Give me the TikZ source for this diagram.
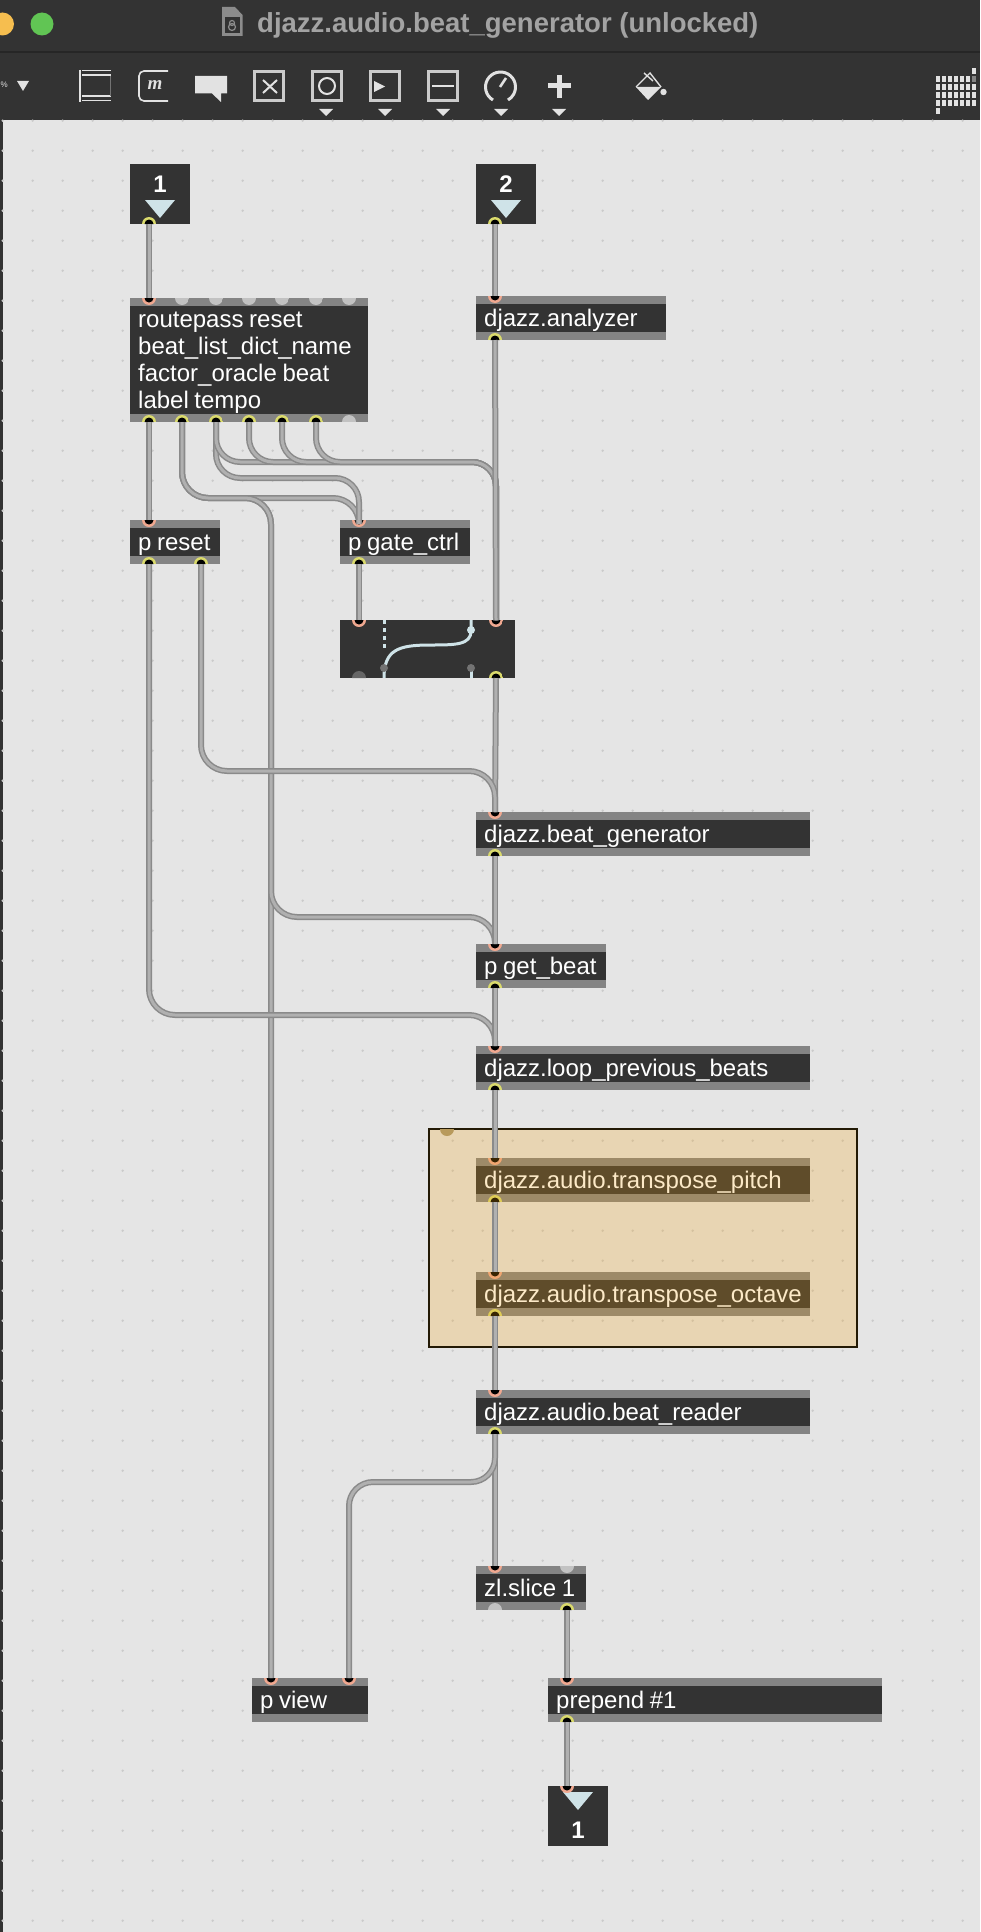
\documentclass[tikz,border=0pt]{standalone}
\usepackage{amsmath}
\usepackage{fontspec}
\setmainfont{Liberation Sans}
\newfontfamily\serifm{Liberation Serif}
\usepackage{tikz}

\definecolor{objdark}{HTML}{333333}
\definecolor{objstrip}{HTML}{848484}
\definecolor{canvasgray}{HTML}{E5E5E5}
\definecolor{griddot}{HTML}{CBCBCB}
\definecolor{iconlight}{HTML}{E2E2E2}
\definecolor{titlegray}{HTML}{A3A3A3}
\definecolor{arrowblue}{HTML}{CFE3E8}
\definecolor{inpink}{HTML}{F0A890}
\definecolor{outyellow}{HTML}{DADA6C}
\definecolor{freegray}{HTML}{C2C2C2}
\definecolor{cordedge}{HTML}{8A8A8A}
\definecolor{cordmid}{HTML}{B0B0B0}
\definecolor{panelorange}{RGB}{243,161,13}
\definecolor{panelline}{HTML}{231A05}
\definecolor{lightyellow}{HTML}{F6BE4F}
\definecolor{lightgreen}{HTML}{61C554}
\definecolor{panelknob}{HTML}{B89A5C}

\tikzset{
  maxobj/.style={rectangle, fill=objdark, anchor=north west, inner xsep=8pt, inner ysep=0pt,
    minimum width=#1pt, text width=#1pt-16pt, minimum height=44pt, text=white, align=left,
    font=\fontsize{24}{27}\selectfont, text height=20pt, text depth=2.6pt,
    execute at begin node={\spaceskip=5.6pt\relax},
    path picture={
      \fill[objstrip] (path picture bounding box.north west) rectangle ([yshift=-8pt]path picture bounding box.north east);
      \fill[objstrip] (path picture bounding box.south west) rectangle ([yshift=8pt]path picture bounding box.south east);
    }},
  ioobj/.style={rectangle, fill=objdark, anchor=north west, inner sep=0pt, minimum size=60pt},
  ionum/.style={text=white, anchor=base, font=\fontsize{24}{24}\selectfont\bfseries},
  lowhalf/.style={circle, inner sep=0pt, minimum size=14pt, path picture={
      \fill[#1] (path picture bounding box.south west) rectangle (path picture bounding box.east);
      \fill[black] (path picture bounding box.center) ++(-4.5pt,0pt) arc[start angle=180, end angle=360, radius=4.5pt] -- cycle;
    }},
  uphalf/.style={circle, inner sep=0pt, minimum size=14pt, path picture={
      \fill[#1] (path picture bounding box.north west) rectangle (path picture bounding box.east);
      \fill[black] (path picture bounding box.center) ++(-4.5pt,0pt) arc[start angle=180, end angle=0, radius=4.5pt] -- cycle;
    }},
  inport/.style={lowhalf=inpink},
  outport/.style={uphalf=outyellow},
  freein/.style={circle, inner sep=0pt, minimum size=14pt, path picture={
      \fill[freegray] (path picture bounding box.south west) rectangle (path picture bounding box.east);}},
  freeout/.style={circle, inner sep=0pt, minimum size=14pt, path picture={
      \fill[freegray] (path picture bounding box.north west) rectangle (path picture bounding box.east);}},
  cord/.style={draw=cordedge, double=cordmid, line width=1.5pt, double distance=3pt},
  bend/.style={cord, rounded corners=#1pt},
  toolbox/.style={draw=iconlight!90!black, line width=2.6pt},
  toolline/.style={draw=iconlight, line width=2pt},
  menutip/.style={fill=iconlight}
}

\begin{document}
\begin{tikzpicture}[x=1pt, y=-1pt]
  \useasboundingbox (0,0) rectangle (980,1932);
  \clip (0,0) rectangle (980,1932);

  % Window and canvas
  \fill[canvasgray] (0,120) rectangle (980,1932);
  \fill[objdark] (0,0) rectangle (980,120);
  \fill[objdark] (0,120) rectangle (2.5,1932);
  \fill[black!85] (0,51.5) rectangle (980,53);
  \foreach \gx in {2.7,32.7,...,980} {
    \foreach \gy in {120.7,150.7,...,1932} {
      \fill[griddot] (\gx,\gy) circle (1.3pt);
    }
  }

  % Title bar
  \fill[lightyellow] (2.5,24) circle (11.5pt);
  \fill[lightgreen] (42,24) circle (11.5pt);
  \fill[black!45] (222,7) -- (235,7) -- (242.5,15) -- (242.5,36) -- (222,36) -- cycle;
  \fill[objdark] (225,17) rectangle (239.5,33);
  \draw[black!45, line width=1.2pt] (232,27) circle (3.5pt);
  \draw[black!45, line width=1.2pt] (232,23) circle (2.5pt);
  \node[anchor=base west, inner sep=0pt, text=titlegray, font=\fontsize{27.5}{27.5}\selectfont\bfseries] (title) at (257,32.5) {djazz.audio.beat\_generator (unlocked)};

  % Toolbar icons
  \node[anchor=west, inner sep=0pt, text=iconlight, font=\fontsize{8}{8}\selectfont] (zoomval) at (0.5,85) {\%};
  \fill[menutip] (17,81) -- (29,81) -- (23,91) -- cycle;
  \draw[toolline] (80,70) -- (80,102);
  \draw[toolline, line width=1pt] (82,71) -- (111,71);
  \draw[toolline] (82,75.5) -- (111,75.5);
  \draw[toolline] (82,96) -- (111,96);
  \draw[toolline, line width=1pt] (82,101) -- (111,101);
  \draw[black!55, line width=1pt] (110,76) -- (110,96);
  \draw[toolline, line width=1.6pt, rounded corners=5pt] (168,71) -- (139,71) -- (139,101) -- (168,101);
  \node[text=iconlight, inner sep=0pt, font=\fontsize{19}{19}\selectfont\serifm\bfseries\itshape] (msgm) at (155,85) {m};
  \fill[iconlight] (195,76) -- (227,76) -- (227,93.5) -- (221,93.5) -- (221,102) -- (212,93.5) -- (195,93.5) -- cycle;
  \draw[toolbox] (254.5,71.5) rectangle (283.5,100.5);
  \draw[toolline] (263,80) -- (277,93);
  \draw[toolline] (277,80) -- (263,93);
  \draw[toolbox] (312.5,71.5) rectangle (341.5,100.5);
  \draw[toolline] (327,86) circle (8pt);
  \draw[toolbox] (370.5,71.5) rectangle (399.5,100.5);
  \fill[iconlight] (374,81) -- (385,86.5) -- (374,92) -- cycle;
  \draw[toolbox] (428.5,71.5) rectangle (457.5,100.5);
  \draw[toolline] (432,86) -- (454,86);
  \draw[iconlight, line width=3pt] (493,100) arc[start angle=-120, end angle=-420, radius=15pt];
  \draw[toolline, line width=2.6pt] (500,87) -- (506,78);
  \draw[iconlight, line width=5pt] (548,86) -- (571,86);
  \draw[iconlight, line width=5pt] (559,75) -- (559,98);
  \fill[iconlight] (636,87) -- (661,87) -- (648,100) -- cycle;
  \draw[iconlight, line width=1.4pt] (636,87) -- (650,73) -- (661,87);
  \draw[iconlight, line width=1.4pt] (644,73) -- (653,81);
  \fill[iconlight] (663.5,92) circle (3.2pt);
  \foreach \tx in {326,385,443,501,559} {
    \fill[menutip] ([xshift=-7pt]\tx,109) -- ([xshift=7pt]\tx,109) -- (\tx,116) -- cycle;
  }
  \foreach \sx in {938,944,950,956,962,968,974} {
    \foreach \sy in {79,87,95,103} {
      \fill[iconlight] (\sx-2,\sy-3) rectangle (\sx+2,\sy+3);
    }
  }
  \fill[objstrip] (972,76) rectangle (976,82);
  \fill[iconlight] (972,68) rectangle (976,74);
  \fill[iconlight] (936,108) rectangle (940,114);

  % Define objects
  \node[ioobj] (inA) at (130,164) {};
  \node[ioobj] (inB) at (476,164) {};
  \node[maxobj=238, minimum height=124pt, text depth=85pt] (route) at (130,298) {routepass reset\\beat\_list\_dict\_name\\factor\_oracle beat\\label tempo};
  \node[maxobj=190] (analyzer) at (476,296) {djazz.analyzer};
  \node[maxobj=90] (reset) at (130,520) {p~reset};
  \node[maxobj=130] (gatectrl) at (340,520) {p~gate\_ctrl};
  \node[rectangle, fill=objdark, anchor=north west, inner sep=0pt, minimum width=175pt, minimum height=58pt] (gate) at (340,620) {};
  \node[maxobj=334] (generator) at (476,812) {djazz.beat\_generator};
  \node[maxobj=130] (getbeat) at (476,944) {p~get\_beat};
  \node[maxobj=334] (loopbeats) at (476,1046) {djazz.loop\_previous\_beats};
  \node[maxobj=334] (pitch) at (476,1158) {djazz.audio.transpose\_pitch};
  \node[maxobj=334] (octave) at (476,1272) {djazz.audio.transpose\_octave};
  \node[maxobj=334] (reader) at (476,1390) {djazz.audio.beat\_reader};
  \node[maxobj=110] (slice) at (476,1566) {zl.slice 1};
  \node[maxobj=116] (view) at (252,1678) {p~view};
  \node[maxobj=334] (prepend) at (548,1678) {prepend \#1};
  \node[ioobj] (outA) at (548,1786) {};

  % Inlet and outlet boxes
  \fill[arrowblue] (145,200) -- (175,200) -- (160,218) -- cycle;
  \fill[arrowblue] (491,200) -- (521,200) -- (506,218) -- cycle;
  \fill[arrowblue] (563,1792) -- (593,1792) -- (578,1810) -- cycle;
  \node[ionum] (numA) at (160,192) {1};
  \node[ionum] (numB) at (506,192) {2};
  \node[ionum] (numC) at (578,1838) {1};

  % Gate inside
  \draw[arrowblue, line width=3pt, dash pattern=on 4pt off 4pt] (384,620) -- (384,648);
  \draw[arrowblue, line width=3pt] (471,620) -- (471,631) .. controls (471,645) and (455,645) .. (430,645) .. controls (398,645) and (384,650) .. (384,678);
  \draw[arrowblue, line width=3pt] (471,668) -- (471,678);
  \fill[arrowblue] (471,630) circle (4pt);
  \fill[black!55] (384,668) circle (4pt);
  \fill[black!55] (471,668) circle (4pt);
  \fill[black!60] (352,678) arc[start angle=180, end angle=0, radius=7pt] -- cycle;

  % Define ports
  \node[outport] (inAo) at (149,224) {};
  \node[outport] (inBo) at (495,224) {};
  \node[inport] (routei) at (149,298) {};
  \node[freein] (routeiB) at (182,298) {};
  \node[freein] (routeiC) at (216,298) {};
  \node[freein] (routeiD) at (249,298) {};
  \node[freein] (routeiE) at (282,298) {};
  \node[freein] (routeiF) at (316,298) {};
  \node[freein] (routeiG) at (349,298) {};
  \node[outport] (routeA) at (149,422) {};
  \node[outport] (routeB) at (182,422) {};
  \node[outport] (routeC) at (216,422) {};
  \node[outport] (routeD) at (249,422) {};
  \node[outport] (routeE) at (282,422) {};
  \node[outport] (routeF) at (316,422) {};
  \node[freeout] (routeG) at (349,422) {};
  \node[inport] (analyzeri) at (495,296) {};
  \node[outport] (analyzero) at (495,340) {};
  \node[inport] (reseti) at (149,520) {};
  \node[outport] (resetA) at (149,564) {};
  \node[outport] (resetB) at (201,564) {};
  \node[inport] (ctrli) at (359,520) {};
  \node[outport] (ctrlo) at (359,564) {};
  \node[inport] (gateA) at (359,620) {};
  \node[inport] (gateB) at (496,620) {};
  \node[outport] (gateo) at (496,678) {};
  \node[inport] (geni) at (495,812) {};
  \node[outport] (geno) at (495,856) {};
  \node[inport] (beati) at (495,944) {};
  \node[outport] (beato) at (495,988) {};
  \node[inport] (loopi) at (495,1046) {};
  \node[outport] (loopo) at (495,1090) {};
  \node[inport] (pitchi) at (495,1158) {};
  \node[outport] (pitcho) at (495,1202) {};
  \node[inport] (octavei) at (495,1272) {};
  \node[outport] (octaveo) at (495,1316) {};
  \node[inport] (readeri) at (495,1390) {};
  \node[outport] (readero) at (495,1434) {};
  \node[inport] (slicei) at (495,1566) {};
  \node[freein] (sliceiB) at (567,1566) {};
  \node[freeout] (sliceA) at (495,1610) {};
  \node[outport] (sliceB) at (567,1610) {};
  \node[inport] (viewA) at (271,1678) {};
  \node[inport] (viewB) at (349,1678) {};
  \node[inport] (prependi) at (567,1678) {};
  \node[outport] (prependo) at (567,1722) {};
  \node[inport] (outAi) at (567,1786) {};

  % Comment panel sits over its objects
  \node[rectangle, anchor=north west, inner sep=0pt, minimum width=428pt, minimum height=218pt, fill=panelorange, fill opacity=0.23, draw=panelline, draw opacity=1, line width=2pt] (panel) at (428,1128) {};
  \fill[panelknob] (440,1129) arc[start angle=180, end angle=360, radius=7pt] -- cycle;

  % Draw cords
  \draw[cord] (inAo.center) -- (routei.center);
  \draw[cord] (inBo.center) -- (analyzeri.center);
  \draw[cord] (routeA.center) -- (reseti.center);
  \draw[bend=26] (routeB.center) |- (359,498) -- (ctrli.center);
  \draw[bend=26] (routeB.center) |- (271,498) -- (viewA.center);
  \draw[bend=26] (routeB.center) |- (271,498) -- (271,917) -- (495,917) -- (beati.center);
  \draw[bend=24] (routeC.center) |- (359,478) -- (ctrli.center);
  \foreach \src in {routeC,routeD,routeE,routeF} {
    \draw[bend=24] (\src.center) |- (496,462) -- (gateB.center);
  }
  \draw[cord] (analyzero.center) -- (gateB.center);
  \draw[cord] (ctrlo.center) -- (gateA.center);
  \draw[cord] (gateo.center) -- (geni.center);
  \draw[bend=26] (resetB.center) |- (495,771) -- (geni.center);
  \draw[bend=26] (resetA.center) |- (495,1015) -- (loopi.center);
  \draw[cord] (geno.center) -- (beati.center);
  \draw[cord] (beato.center) -- (loopi.center);
  \draw[cord] (loopo.center) -- (pitchi.center);
  \draw[cord] (pitcho.center) -- (octavei.center);
  \draw[cord] (octaveo.center) -- (readeri.center);
  \draw[cord] (readero.center) -- (slicei.center);
  \draw[bend=24] (readero.center) |- (349,1482) -- (viewB.center);
  \draw[cord] (sliceB.center) -- (prependi.center);
  \draw[cord] (prependo.center) -- (outAi.center);
\end{tikzpicture}
\end{document}
